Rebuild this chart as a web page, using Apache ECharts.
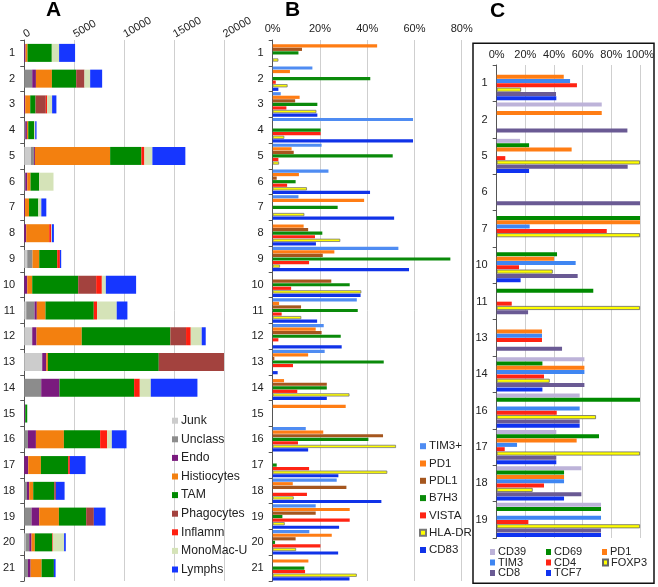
<!DOCTYPE html>
<html><head><meta charset="utf-8">
<script src="https://cdn.jsdelivr.net/npm/echarts@6/dist/echarts.min.js"></script>
<style>html,body{margin:0;padding:0;background:#fff}#c{width:658px;height:587px}</style>
</head><body><div id="c"></div>
<script>
// ---------- Panel A: cell counts (stacked) ----------
const catsAB = ['1','2','3','4','5','6','7','8','9','10','11','12','13','14','15','16','17','18','19','20','21'];
const aNames = ['Junk','Unclass','Endo','Histiocytes','TAM','Phagocytes','Inflamm','MonoMac-U','Lymphs'];
const aJunk    = [0,0,0,0,670,0,0,0,300,0,200,800,1800,0,0,0,0,0,0,130,0];
const aUnclass = [0,800,0,100,300,100,0,0,530,0,830,0,0,1700,0,370,0,270,730,370,370];
const aEndo    = [130,370,100,170,100,200,80,200,0,300,230,430,400,1830,100,800,400,230,770,230,270];
const aHistio  = [200,1600,500,130,7530,330,400,2300,670,500,870,4530,170,0,0,2800,1270,400,1970,330,1100];
const aTAM     = [2430,2430,530,600,3130,870,930,0,1800,4600,4830,8870,11100,7470,200,3630,2730,2100,2730,1730,1230];
const aPhago   = [0,830,1030,0,0,0,0,0,0,1800,0,1570,6570,0,0,0,0,170,770,0,0];
const aInflamm = [0,0,130,0,300,0,0,200,270,570,330,470,0,570,0,700,170,0,0,70,0];
const aMonoMac = [730,570,500,100,800,1430,300,70,0,400,1970,1100,0,1100,0,470,0,0,0,1130,0];
const aLymphs  = [1600,1200,430,130,3300,0,500,200,130,3030,1070,400,0,4670,0,1470,1570,870,1170,170,170];
const aTicks = [0,5000,10000,15000,20000];

// ---------- Panel B: percentages ----------
const bNames = ['TIM3+','PD1','PDL1','B7H3','VISTA','HLA-DR','CD83'];
const bTIM3  = [0,16.8,3.4,59.4,20.7,23.6,10.9,0,53.2,0,35.6,21.6,22,0,0,14,0,27.1,18.2,15.5,0];
const bPD1   = [44.2,7.3,11.4,0,8,11.1,38.7,13.1,26.1,0,2.7,18.2,15,4.8,30.9,21.4,0,8.5,32.6,25,15.1];
const bPDL1  = [12.4,0,9.5,0,8.9,1.7,0,15,21.2,24.8,12,20.7,0.7,22.9,0,46.7,0,31.2,18.2,9.7,0];
const bB7H3  = [10.9,41.3,18.9,20.3,50.8,9.7,27.5,21,75.2,32.6,36,28.8,47,22.9,0,40.5,1.7,0,4.1,1,13.4];
const bVISTA = [0,1.3,5.8,20.3,2.4,6.1,0,17.9,15.4,7.8,3.8,2.4,8.6,10.4,0,10.7,15.4,14.5,32.6,20.2,13.7];
const bHLADR = [2.4,6.3,18.5,4.9,2.7,14.5,13.4,28.6,3.1,37.5,12.1,0,0,32.5,0,52.2,48.5,8.9,5.1,9.9,35.6];
const bCD83  = [0,2.4,18.9,59.4,0,41.2,51.4,18.3,57.7,37.2,18.8,29.2,2.1,22.9,0,15,27.8,46,28.1,27.7,32.5];

// ---------- Panel C: percentages ----------
const catsC = ['1','2','5','6','7','10','11','13','14','16','17','18','19'];
const cNames = ['CD39','CD69','PD1','TIM3','CD4','FOXP3','CD8','TCF7'];
const cCD39  = [0,73.3,16.3,0,0,0,0,0,61.2,57.9,41.6,59.1,72.8];
const cCD69  = [0,0,22.6,0,100,42.1,67.4,0,31.9,100,71.4,47,72.8];
const cPD1   = [46.8,73.3,52.3,0,100,40,0,31.6,61.2,0,55.8,47,0];
const cTIM3  = [51.2,0,0,0,23,55.1,0,31.6,61.2,57.9,14.2,47,72.8];
const cCD4   = [56,0,6,0,76.8,15.6,10.5,31.6,33,41.9,5.6,33,22.1];
const cFOXP3 = [17,0,100,0,100,39.1,100,0,37,69.3,100,25.1,100];
const cCD8   = [41.4,91.2,91.4,100,0,56.5,21.9,45.6,61.2,57.9,41.6,59.1,72.8];
const cTCF7  = [41.6,0,22.6,0,0,16.7,0,0,31.9,57.9,41.6,47,72.8];

const aData = [aJunk,aUnclass,aEndo,aHistio,aTAM,aPhago,aInflamm,aMonoMac,aLymphs];
const bData = [bTIM3,bPD1,bPDL1,bB7H3,bVISTA,bHLADR,bCD83];
const cData = [cCD39,cCD69,cPD1,cTIM3,cCD4,cFOXP3,cCD8,cTCF7];

const aColors = ['#cccccc','#8c8c8c','#7a1a7e','#f3800f','#008a00','#a3423e','#ff1f10','#d5e3b8','#1636ff'];
const bColors = ['#4f8cf2','#ff7d14','#a5561e','#0a8a0a','#ff2414','#ffff00','#1033e8'];
const cColors = ['#bdb3d9','#008a00','#ff7d14','#3f86f2','#ff2414','#ffff00','#6a5a94','#1033f0'];

const FONT = 'Liberation Sans, Arial, sans-serif';
const nz = arr => arr.map(v => v === 0 ? null : v);

function yAxisFor(gi, cats) {
  return {
    type:'category', gridIndex:gi, data:cats, inverse:true,
    axisLine:{show:true, lineStyle:{color:'#555', width:1}},
    axisTick:{show:true, length:4, lineStyle:{color:'#555'}},
    axisLabel:{fontSize:11, color:'#222', fontFamily:FONT, margin:9},
    splitLine:{show:false}
  };
}
const gridLine = {show:true, lineStyle:{color:'#cfcfcf', width:1}};

const series = [];
aNames.forEach((n,i) => series.push({
  name:n, type:'bar', stack:'A', xAxisIndex:0, yAxisIndex:0, barWidth:18,
  data:aData[i], itemStyle:{color:aColors[i]}, silent:true, animation:false
}));
bNames.forEach((n,i) => series.push({
  name:n, type:'bar', xAxisIndex:1, yAxisIndex:1, barWidth:3.2, barGap:'11%',
  data:nz(bData[i]),
  itemStyle: n === 'HLA-DR' ? {color:bColors[i], borderColor:'#777', borderWidth:0.8} : {color:bColors[i]},
  silent:true, animation:false
}));
cNames.forEach((n,i) => series.push({
  name:'C_'+n, type:'bar', xAxisIndex:2, yAxisIndex:2, barWidth:4, barGap:'8%',
  data:nz(cData[i]),
  itemStyle: n === 'FOXP3' ? {color:cColors[i], borderColor:'#666', borderWidth:0.8} : {color:cColors[i]},
  silent:true, animation:false
}));

// Legends
const legends = [
  {left:172, top:414.7, height:220, padding:0, orient:'vertical', itemWidth:6, itemHeight:6, itemGap:6.6, icon:'rect',
   data:aNames, textStyle:{fontSize:12.2, lineHeight:12, color:'#222', fontFamily:FONT, padding:[0,0,0,-2]}, selectedMode:false},
  {left:419, top:440.2, height:200, padding:0, orient:'vertical', itemWidth:6, itemHeight:6, itemGap:5.3, icon:'rect',
   data:bNames, textStyle:{fontSize:11.5, lineHeight:11, color:'#222', fontFamily:FONT, padding:[0,0,0,-2]}, selectedMode:false}
];
const cLegPos = [[490,546.5],[546,546.5],[602,546.5],[490,557],[546,557],[602,557],[490,567.5],[546,567.5]];
cNames.forEach((n,i) => legends.push({
  left:cLegPos[i][0], top:cLegPos[i][1], padding:0, itemWidth:5, itemHeight:6, icon:'rect', selectedMode:false,
  data:['C_'+n], formatter: s => s.slice(2),
  textStyle:{fontSize:11, lineHeight:10.5, color:'#222', fontFamily:FONT, padding:[0,0,0,-2]}
}));

const option = {
  animation:false,
  textStyle:{fontFamily:FONT},
  grid:[
    {left:24, top:40, width:200, height:541},
    {left:272.7, top:40, width:189, height:541},
    {left:496.7, top:65, width:143.3, height:473}
  ],
  xAxis:[
    {type:'value', gridIndex:0, position:'top', min:aTicks[0], max:aTicks[aTicks.length-1], interval:5000,
     axisLine:{show:false}, axisTick:{show:false}, splitLine:gridLine,
     axisLabel:{fontSize:11, color:'#222', rotate:-30, margin:5, fontFamily:FONT, formatter: v => String(v)}},
    {type:'value', gridIndex:1, position:'top', min:0, max:80, interval:20,
     axisLine:{show:false}, axisTick:{show:false}, splitLine:gridLine,
     axisLabel:{fontSize:11, color:'#222', margin:6, formatter:'{value}%', fontFamily:FONT}},
    {type:'value', gridIndex:2, position:'top', min:0, max:100, interval:20,
     axisLine:{show:false}, axisTick:{show:false}, splitLine:gridLine,
     axisLabel:{fontSize:11, color:'#222', margin:5, formatter:'{value}%', fontFamily:FONT}}
  ],
  yAxis:[yAxisFor(0,catsAB), yAxisFor(1,catsAB), yAxisFor(2,catsC)],
  legend:legends,
  series:series,
  graphic:[
    {type:'rect', shape:{x:473, y:43.3, width:181, height:540}, style:{fill:'none', stroke:'#111', lineWidth:1.5}, silent:true, z:-1},
    {type:'text', x:53.5, y:10, style:{text:'A', font:'bold 21px '+FONT, fill:'#000', textAlign:'center', textVerticalAlign:'middle'}},
    {type:'text', x:292.5, y:10, style:{text:'B', font:'bold 21px '+FONT, fill:'#000', textAlign:'center', textVerticalAlign:'middle'}},
    {type:'text', x:497.5, y:11, style:{text:'C', font:'bold 21px '+FONT, fill:'#000', textAlign:'center', textVerticalAlign:'middle'}}
  ]
};
const chart = echarts.init(document.getElementById('c'), null, {renderer:'canvas'});
chart.setOption(option);
</script></body></html>
